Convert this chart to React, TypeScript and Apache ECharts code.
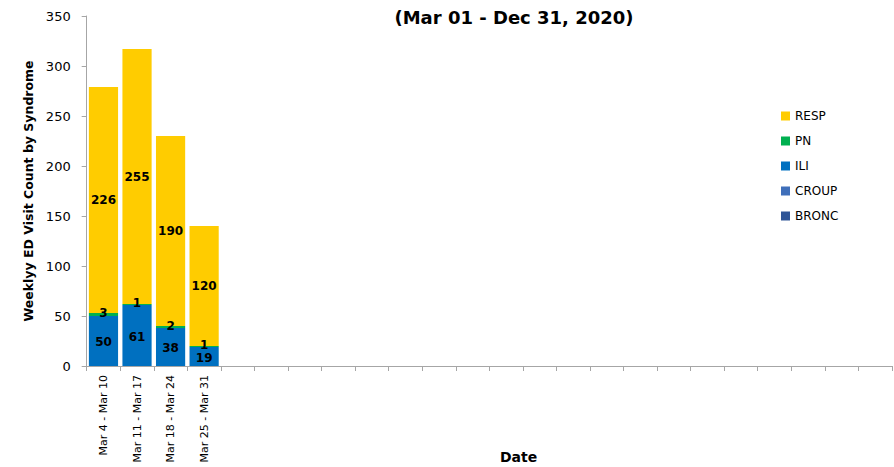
import React, { useEffect, useRef } from "react";
import * as echarts from "echarts";

const weeks: string[] = [
  "Mar 4 - Mar 10",
  "Mar 11 - Mar 17",
  "Mar 18 - Mar 24",
  "Mar 25 - Mar 31",
  "", "", "", "", "", "", "", "", "", "", "", "", "", "", "", "", "", "", "", "",
];

const seriesNames = ["RESP", "PN", "ILI", "CROUP", "BRONC"];
const iliValues = [50, 61, 38, 19];
const pnValues = [3, 1, 2, 1];
const respValues = [226, 255, 190, 120];
const croupValues = [0, 0, 0, 0];
const broncValues = [0, 0, 0, 0];

const yTicks = [0, 50, 100, 150, 200, 250, 300, 350];

const titleText = "(Mar 01 - Dec 31, 2020)";
const yAxisTitle = "Weeklyy ED Visit Count by Syndrome";
const xAxisTitle = "Date";

const colors: Record<string, string> = {
  RESP: "#FFCC00",
  PN: "#00B050",
  ILI: "#0070C0",
  CROUP: "#3F6FBA",
  BRONC: "#2F5597",
};

const FONT = "'DejaVu Sans', Verdana, sans-serif";

export default function App() {
  const ref = useRef<HTMLDivElement>(null);
  useEffect(() => {
    if (!ref.current) return;
    const chart = echarts.init(ref.current, undefined, { renderer: "svg" });
    const baseLabel = {
      show: true,
      position: "inside",
      color: "#000",
      fontFamily: FONT,
      fontWeight: "bold",
      fontSize: 12,
      formatter: (p: any) => (p.value ? String(p.value) : ""),
    };
    const mk = (name: string, data: number[], offset: number[] = [0, 0], fs = 12) => ({
      name,
      type: "bar",
      stack: "total",
      data,
      barCategoryGap: "13%",
      itemStyle: { color: colors[name] },
      label: { ...baseLabel, offset, fontSize: fs, lineHeight: fs },
    });
    const catW = 33.55;
    chart.setOption({
      animation: false,
      textStyle: { fontFamily: FONT },
      title: {
        text: titleText,
        left: 509,
        top: 3,
        textAlign: "center",
        textStyle: { fontFamily: FONT, fontWeight: "bold", fontSize: 18, color: "#000" },
      },
      legend: {
        orient: "vertical",
        left: 776,
        top: 104,
        itemWidth: 9,
        itemHeight: 9,
        itemGap: 11,
        icon: "rect",
        data: seriesNames,
        textStyle: { fontFamily: FONT, fontSize: 12, color: "#000", lineHeight: 14 },
      },
      grid: {
        left: 86.7,
        top: 16,
        height: 350,
        width: catW * weeks.length,
        containLabel: false,
      },
      xAxis: {
        type: "category",
        data: weeks,
        axisLine: { lineStyle: { color: "#A6A6A6", width: 1 } },
        axisTick: { show: true, length: 5, lineStyle: { color: "#A6A6A6" } },
        axisLabel: {
          rotate: 90,
          interval: 0,
          margin: 9,
          fontFamily: FONT,
          fontSize: 11,
          color: "#000",
        },
      },
      yAxis: {
        type: "value",
        min: yTicks[0],
        max: yTicks[yTicks.length - 1],
        interval: 50,
        name: yAxisTitle,
        nameLocation: "middle",
        nameGap: 50,
        nameRotate: 90,
        nameTextStyle: { fontFamily: FONT, fontWeight: "bold", fontSize: 12.5, color: "#000" },
        axisLine: { show: true, lineStyle: { color: "#A6A6A6", width: 1 } },
        axisTick: { show: true, length: 5, lineStyle: { color: "#A6A6A6" } },
        splitLine: { show: false },
        axisLabel: { margin: 16, fontFamily: FONT, fontSize: 13, color: "#000" },
      },
      graphic: [
        {
          type: "text",
          left: 500,
          top: 450,
          style: {
            text: xAxisTitle,
            fontFamily: FONT,
            fontWeight: "bold",
            fontSize: 14,
            fill: "#000",
          },
        },
      ],
      series: [
        mk("ILI", iliValues, [0, 1]),
        mk("PN", pnValues, [0, -1.5]),
        mk("RESP", respValues),
        mk("CROUP", croupValues),
        mk("BRONC", broncValues),
      ],
    });
    return () => chart.dispose();
  }, []);
  return (
    <div
      ref={ref}
      style={{ position: "fixed", left: 0, top: 0, width: 894, height: 467, background: "#fff" }}
    />
  );
}
